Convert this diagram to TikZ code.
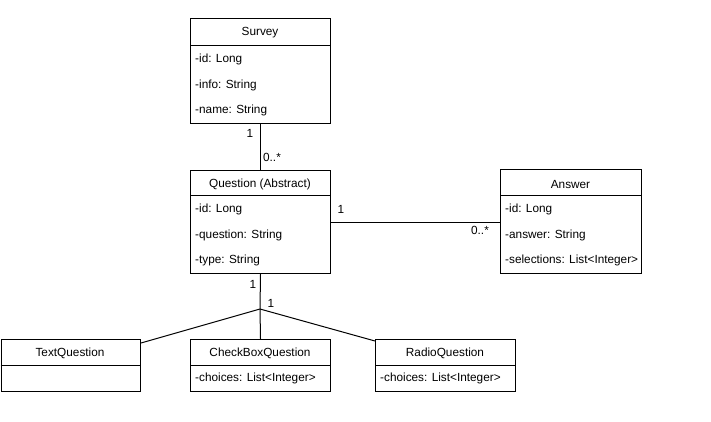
\documentclass[tikz,border=0pt]{standalone}
\usepackage{fontspec}
\setmainfont{Liberation Sans}
\begin{document}
\begin{tikzpicture}[x=1pt,y=-1pt,
  classbox/.style={draw=black, line width=1pt, rectangle, inner sep=0pt, anchor=north west},
  hdr/.style={font=\fontsize{11.8pt}{14pt}\selectfont, inner sep=0pt, anchor=center},
  attr/.style={font=\fontsize{11.8pt}{14pt}\selectfont, inner sep=0pt, anchor=west},
  lbl/.style={font=\fontsize{11.8pt}{14pt}\selectfont, inner sep=0pt, anchor=center},
  sep/.style={line width=1pt},
  conn/.style={line width=1pt}]
\useasboundingbox[fill=white] (0,0) rectangle (711,421);

% Survey
\node[classbox, minimum width=140pt, minimum height=105pt] (survey) at (190,18) {};
\draw[sep] (190,45) -- (330,45);
\node[hdr] (surveyh) at (260,33) {Survey};
\node[attr] (sa1) at (195,59) {-id: Long};
\node[attr] (sa2) at (195,85) {-info: String};
\node[attr] (sa3) at (195,110) {-name: String};

% Question
\node[classbox, minimum width=140pt, minimum height=103pt] (question) at (190,170) {};
\draw[sep] (190,195) -- (330,195);
\node[hdr] (questionh) at (260,184) {Question (Abstract)};
\node[attr] (qa1) at (195,209) {-id: Long};
\node[attr] (qa2) at (195,235) {-question: String};
\node[attr] (qa3) at (195,260) {-type: String};

% Answer
\node[classbox, minimum width=141pt, minimum height=104pt] (answer) at (500,169) {};
\draw[sep] (500,195) -- (641,195);
\node[hdr] (answerh) at (570.5,184) {Answer};
\node[attr] (aa1) at (505,209) {-id: Long};
\node[attr] (aa2) at (505,235) {-answer: String};
\node[attr] (aa3) at (505,260) {-selections: List<Integer>};

% TextQuestion
\node[classbox, minimum width=139.5pt, minimum height=52pt] (textq) at (0.5,339) {};
\draw[sep] (0.5,365) -- (140,365);
\node[hdr] (textqh) at (70,353) {TextQuestion};

% CheckBoxQuestion
\node[classbox, minimum width=140pt, minimum height=52pt] (checkq) at (190,339) {};
\draw[sep] (190,365) -- (330,365);
\node[hdr] (checkqh) at (260,353) {CheckBoxQuestion};
\node[attr] (ca1) at (195,378) {-choices: List<Integer>};

% RadioQuestion
\node[classbox, minimum width=140pt, minimum height=52pt] (radioq) at (375,339) {};
\draw[sep] (375,365) -- (515,365);
\node[hdr] (radioqh) at (445,353) {RadioQuestion};
\node[attr] (ra1) at (380,378) {-choices: List<Integer>};

% Connectors
\draw[conn] (survey.south) -- (question.north);
\node[lbl] (l1) at (250,133) {1};
\node[lbl] (l2) at (272,157) {0..*};

\draw[conn] (question.east) -- (answer.west |- question.east);
\node[lbl] (l3) at (341,209) {1};
\node[lbl] (l4) at (480,230) {0..*};

\coordinate (J) at (260,309);
\draw[conn] (question.south) -- (J);
\draw[conn] (J) -- (checkq.north);
\draw[conn] (J) -- ([yshift=-4pt]textq.north east);
\draw[conn] (J) -- ([yshift=-2pt]radioq.north west);
\node[lbl] (l5) at (253,284) {1};
\node[lbl] (l6) at (271,303) {1};
\end{tikzpicture}
\end{document}
